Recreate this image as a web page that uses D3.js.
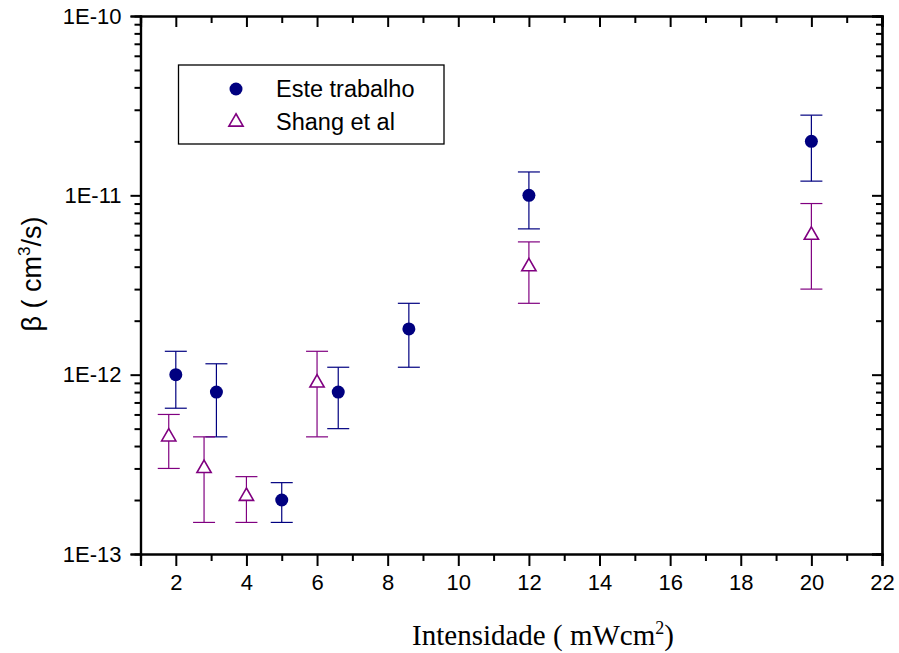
<!DOCTYPE html>
<html>
<head>
<meta charset="utf-8">
<script src="https://cdn.jsdelivr.net/npm/d3@7"></script>
<style>
  body { margin: 0; background: #fff; }
  text { font-family: "Liberation Sans", Arial, sans-serif; }
</style>
</head>
<body>
<div id="chart"></div>
<script>
// Este trabalho
const esteX = [2, 3.15, 5, 6.6, 8.6, 12, 20];
const esteY = [1e-12, 8e-13, 2e-13, 8e-13, 1.8e-12, 1e-11, 2e-11];
const esteHi = [1.35e-12, 1.15e-12, 2.5e-13, 1.1e-12, 2.5e-12, 1.35e-11, 2.8e-11];
const esteLo = [6.5e-13, 4.5e-13, 1.5e-13, 5e-13, 1.1e-12, 6.5e-12, 1.2e-11];

// Shang et al
const shangX = [1.8, 2.8, 4, 6, 12, 20];
const shangY = [4.5e-13, 3e-13, 2.1e-13, 9e-13, 4e-12, 6e-12];
const shangHi = [6e-13, 4.5e-13, 2.7e-13, 1.35e-12, 5.5e-12, 9e-12];
const shangLo = [3e-13, 1.5e-13, 1.5e-13, 4.5e-13, 2.5e-12, 3e-12];

const xTicks = [2, 4, 6, 8, 10, 12, 14, 16, 18, 20, 22];
const yTicks = [1e-13, 1e-12, 1e-11, 1e-10];
const yTickLabels = ["1E-13", "1E-12", "1E-11", "1E-10"];

const w = 899;
const h = 653;
const mLeft = 140.5, mRight = 882, mTop = 16, mBottom = 554;

const navy = "#000080";
const purple = "#800080";

const x = d3.scaleLinear().domain([1, 22]).range([mLeft, mRight]);
const y = d3.scaleLog().domain([1e-13, 1e-10]).range([mBottom, mTop]);

const xMinor = d3.range(1, 23, 2);
const yMinor = [];
[-13, -12, -11].forEach(e => { for (let k = 2; k <= 9; k++) yMinor.push(k * Math.pow(10, e)); });

const svg = d3.select("#chart")
    .append("svg")
    .attr("width", w)
    .attr("height", h);

// bottom axis
const xAxis = d3.axisBottom(x).tickValues(xTicks).tickSize(12).tickPadding(8).tickFormat(d3.format("d"));
const gx = svg.append("g").attr("transform", `translate(0, ${mBottom})`).call(xAxis);
gx.append("g").call(d3.axisBottom(x).tickValues(xMinor).tickSize(7).tickFormat(""));

// top axis, ticks inside
const gt = svg.append("g").attr("transform", `translate(0, ${mTop})`)
    .call(d3.axisBottom(x).tickValues(xTicks).tickSize(11).tickFormat(""));
gt.append("g").call(d3.axisBottom(x).tickValues(xMinor).tickSize(7).tickFormat(""));

// left axis
const yAxis = d3.axisLeft(y).tickValues(yTicks).tickSize(10).tickPadding(9)
    .tickFormat((d, i) => yTickLabels[i]);
const gy = svg.append("g").attr("transform", `translate(${mLeft}, 0)`).call(yAxis);
gy.append("g").call(d3.axisLeft(y).tickValues(yMinor).tickSize(6).tickFormat(""));

// right axis, ticks inside
const gr = svg.append("g").attr("transform", `translate(${mRight}, 0)`)
    .call(d3.axisLeft(y).tickValues(yTicks).tickSize(10).tickFormat(""));
gr.append("g").call(d3.axisLeft(y).tickValues(yMinor).tickSize(6).tickFormat(""));

svg.selectAll(".domain").attr("stroke", "#000").attr("stroke-width", 2.2);
svg.selectAll(".tick line").attr("stroke", "#000").attr("stroke-width", 2);
svg.selectAll(".tick text").attr("fill", "#000").style("font-size", "22px");

// error bars
function errorBars(xs, lo, hi, color) {
    const g = svg.append("g").attr("stroke", color).attr("stroke-width", 1.2).attr("fill", "none");
    xs.forEach((d, i) => {
        g.append("line").attr("x1", x(d)).attr("x2", x(d)).attr("y1", y(hi[i])).attr("y2", y(lo[i]));
        g.append("line").attr("x1", x(d) - 11).attr("x2", x(d) + 11).attr("y1", y(hi[i])).attr("y2", y(hi[i]));
        g.append("line").attr("x1", x(d) - 11).attr("x2", x(d) + 11).attr("y1", y(lo[i])).attr("y2", y(lo[i]));
    });
}
errorBars(esteX, esteLo, esteHi, navy);
errorBars(shangX, shangLo, shangHi, purple);

const tri = d3.symbol().type(d3.symbolTriangle).size(88);

svg.append("g").selectAll("circle")
    .data(esteX)
    .enter()
    .append("circle")
    .attr("cx", d => x(d))
    .attr("cy", (d, i) => y(esteY[i]))
    .attr("r", 6.5)
    .attr("fill", navy);

svg.append("g").selectAll("path")
    .data(shangX)
    .enter()
    .append("path")
    .attr("d", tri)
    .attr("transform", (d, i) => `translate(${x(d)}, ${y(shangY[i])})`)
    .attr("fill", "#fff")
    .attr("stroke", purple)
    .attr("stroke-width", 1.6);

// legend
const lg = svg.append("g");
lg.append("rect").attr("x", 178.5).attr("y", 65).attr("width", 265.5).attr("height", 79)
    .attr("fill", "#fff").attr("stroke", "#000").attr("stroke-width", 1.3);
lg.append("circle").attr("cx", 236).attr("cy", 89).attr("r", 6.5).attr("fill", navy);
lg.append("path").attr("d", tri).attr("transform", "translate(236, 122)")
    .attr("fill", "#fff").attr("stroke", purple).attr("stroke-width", 1.6);
lg.append("text").attr("x", 276).attr("y", 97).style("font-size", "23.5px").text("Este trabalho");
lg.append("text").attr("x", 276).attr("y", 130).style("font-size", "23.5px").text("Shang et al");

// axis titles
const xt = svg.append("text")
    .attr("x", 543)
    .attr("y", 645)
    .attr("text-anchor", "middle")
    .style("font-family", "'Liberation Serif', 'Times New Roman', serif")
    .style("font-size", "29px");
xt.append("tspan").text("Intensidade ( mWcm");
xt.append("tspan").attr("dy", -11).style("font-size", "18px").text("2");
xt.append("tspan").attr("dy", 11).text(")");

const yt = svg.append("text")
    .attr("transform", "translate(41, 274) rotate(-90)")
    .attr("text-anchor", "middle")
    .style("font-size", "27px");
yt.append("tspan").text("β  ( cm");
yt.append("tspan").attr("dy", -11).style("font-size", "17px").text("3");
yt.append("tspan").attr("dy", 11).text("/s)");
</script>
</body>
</html>
